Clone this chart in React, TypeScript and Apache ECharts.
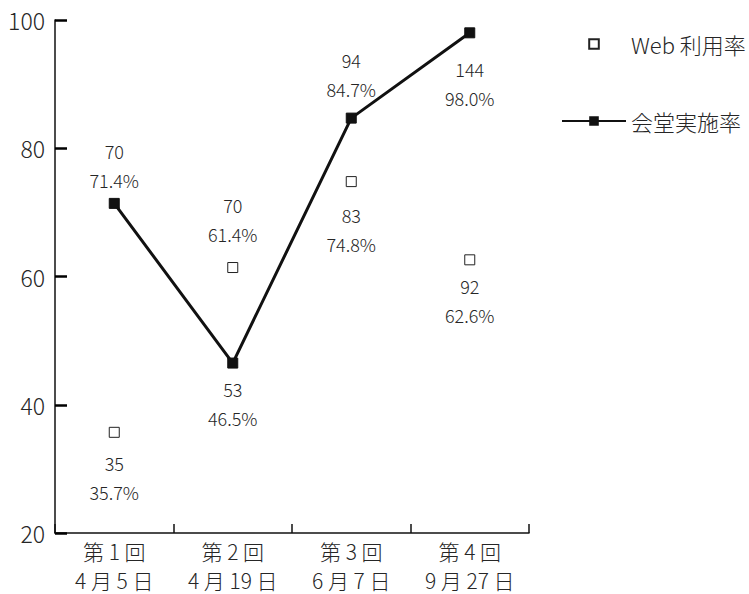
import React, { useEffect, useRef } from "react";
import * as echarts from "echarts";

const categories = ["第 1 回\n4 月 5 日", "第 2 回\n4 月 19 日", "第 3 回\n6 月 7 日", "第 4 回\n9 月 27 日"];
const webRates = [35.7, 61.4, 74.8, 62.6];
const webCounts = [35, 70, 83, 92];
const webLabelPos = ["bottom", "top", "bottom", "bottom"];
const hallRates = [71.4, 46.5, 84.7, 98.0];
const hallCounts = [70, 53, 94, 144];
const hallLabelPos = ["top", "bottom", "top", "bottom"];
const yTicks = [20, 40, 60, 80, 100];

const webLabelDist = [11, 14, 13, 6];
const hallLabelDist = [3, 6, 9, 16];

const FONT = "'Noto Sans CJK JP', 'Noto Sans', sans-serif";
const TXT = "#262626";

export default function App() {
  const ref = useRef<HTMLDivElement>(null);
  useEffect(() => {
    if (!ref.current) return;
    const chart = echarts.init(ref.current, undefined, { renderer: "svg" });
    const mk = (rates: number[], counts: number[], pos: string[], dist: number[]) =>
      rates.map((v, i) => ({
        value: v,
        label: {
          position: pos[i],
          distance: dist[i],
          formatter: `${counts[i]}\n${v.toFixed(1)}%`,
        },
      }));
    const labelBase = {
      show: true,
      fontFamily: FONT,
      fontSize: 18,
      lineHeight: 29,
      color: TXT,
      fontWeight: 300,
    };
    chart.setOption({
      animation: false,
      textStyle: { fontFamily: FONT },
      grid: { left: 55, right: 220, top: 20, bottom: 61 },
      legend: {
        orient: "vertical",
        left: 561,
        top: 33,
        padding: 0,
        itemWidth: 64,
        itemHeight: 12,
        itemGap: 55,
        textStyle: { fontFamily: FONT, fontSize: 22, color: TXT, fontWeight: 300 },
        data: [{ name: "Web 利用率" }, { name: "会堂実施率" }],
      },
      xAxis: {
        type: "category",
        data: categories,
        boundaryGap: true,
        axisLine: { lineStyle: { color: "#111", width: 1.5 } },
        axisTick: { show: true, inside: true, length: 9, lineStyle: { color: "#111", width: 1.5 } },
        axisLabel: {
          fontFamily: FONT,
          fontSize: 21,
          lineHeight: 29,
          color: TXT,
          margin: 3,
          fontWeight: 300,
        },
        splitLine: { show: false },
      },
      yAxis: {
        type: "value",
        min: 20,
        max: 100,
        interval: 20,
        axisLine: { show: true, lineStyle: { color: "#111", width: 1.5 } },
        axisTick: { show: true, inside: true, length: 12, lineStyle: { color: "#000", width: 2.5 } },
        axisLabel: {
          fontFamily: FONT,
          fontSize: 23,
          color: TXT,
          margin: 10,
          fontWeight: 300,
          formatter: (v: number) => (yTicks.includes(v) ? String(v) : ""),
        },
        splitLine: { show: false },
      },
      series: [
        {
          name: "Web 利用率",
          type: "line",
          data: mk(webRates, webCounts, webLabelPos, webLabelDist),
          symbol: "rect",
          symbolSize: 10,
          lineStyle: { width: 0, opacity: 0 },
          itemStyle: { color: "#fff", borderColor: "#222", borderWidth: 1 },
          label: labelBase,
          legendIcon: "rect",
        },
        {
          name: "会堂実施率",
          type: "line",
          data: mk(hallRates, hallCounts, hallLabelPos, hallLabelDist),
          symbol: "rect",
          symbolSize: 10,
          showAllSymbol: true,
          lineStyle: { width: 3, color: "#111" },
          itemStyle: { color: "#111", borderColor: "#111" },
          label: labelBase,
        },
      ],
    });
    return () => chart.dispose();
  }, []);
  return (
    <div
      ref={ref}
      style={{ position: "fixed", left: 0, top: 0, width: 749, height: 594, background: "#fff" }}
    />
  );
}
